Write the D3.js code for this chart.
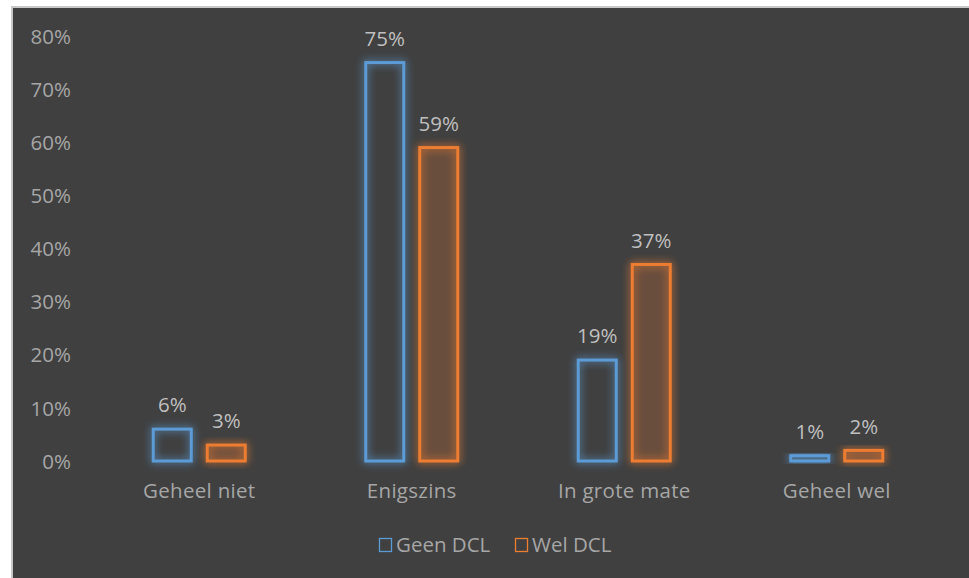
<!DOCTYPE html>
<html><head><meta charset="utf-8">
<script src="https://cdn.jsdelivr.net/npm/d3@7"></script>
<style>
html,body{margin:0;padding:0;background:#fff;}
svg{display:block;}
text{font-family:"Open Sans","Liberation Sans",sans-serif;}
</style></head>
<body>
<svg id="c" width="969" height="578"></svg>
<script>
const categories = ["Geheel niet","Enigszins","In grote mate","Geheel wel"];
const seriesNames = ["Geen DCL","Wel DCL"];
const geenDCL = [6,75,19,1];
const welDCL = [3,59,37,2];
const yTicks = [0,10,20,30,40,50,60,70,80];
const colors = ["#5B9BD5","#ED7D31"];

const svg = d3.select("#c");
svg.append("rect").attr("x",0).attr("y",0).attr("width",969).attr("height",578).attr("fill","#fff");
svg.append("rect").attr("x",11).attr("y",6).attr("width",958).attr("height",572).attr("fill","#c8c8c8");
svg.append("rect").attr("x",13).attr("y",8).attr("width",956).attr("height",570).attr("fill","#404040");

const defs = svg.append("defs");
colors.forEach((c,i)=>{
  const f = defs.append("filter").attr("id","glow"+i).attr("x","-50%").attr("y","-50%").attr("width","200%").attr("height","200%");
  f.append("feGaussianBlur").attr("in","SourceGraphic").attr("stdDeviation",4.5).attr("result","b");
  f.append("feComponentTransfer").attr("in","b").attr("result","b2")
    .append("feFuncA").attr("type","linear").attr("slope",1.1);
  const m = f.append("feMerge");
  m.append("feMergeNode").attr("in","b2");
  m.append("feMergeNode").attr("in","SourceGraphic");
});

const x0 = d3.scaleBand().domain(categories).range([93,943]).paddingInner(0).paddingOuter(0);
const y = d3.scaleLinear().domain([0,80]).range([461,36]);

const fs = 20.5;
const yAxis = d3.axisLeft(y).tickValues(yTicks).tickFormat(d=>d+"%").tickSize(0).tickPadding(0);
const ya = svg.append("g").attr("transform","translate(71,0)").call(yAxis);
ya.select(".domain").remove();
ya.selectAll("text").attr("fill","#a6a6a6").attr("font-size",fs).attr("dy","0.35em").attr("font-family",null);

const xAxis = d3.axisBottom(x0).tickSize(0).tickPadding(0);
const xa = svg.append("g").attr("transform","translate(0,491)").call(xAxis);
xa.select(".domain").remove();
xa.selectAll("text").attr("fill","#a6a6a6").attr("font-size",fs).attr("dy","0.35em").attr("font-family",null).attr("letter-spacing","0.3px");

const barW = 38, gap = 16;
const series = [geenDCL, welDCL];
const fills = ["rgba(91,155,213,0.0)","rgba(237,125,49,0.12)"];
series.forEach((vals,si)=>{
  const g = svg.append("g");
  vals.forEach((v,ci)=>{
    const cx = x0(categories[ci]) + x0.bandwidth()/2;
    const bx = si===0 ? cx - gap/2 - barW : cx + gap/2;
    g.append("rect")
      .attr("x",bx).attr("y",y(v))
      .attr("width",barW).attr("height",y(0)-y(v))
      .attr("fill",fills[si]).attr("stroke",colors[si]).attr("stroke-width",3)
      .attr("filter","url(#glow"+si+")");
    svg.append("text").attr("x",bx+barW/2).attr("y",y(v)-24)
      .attr("text-anchor","middle").attr("dy","0.35em")
      .attr("fill","#bfbfbf").attr("font-size",fs).text(v+"%");
  });
});

const leg = svg.append("g");
const legItems = [{x:379,name:seriesNames[0],c:colors[0]},{x:515,name:seriesNames[1],c:colors[1]}];
legItems.forEach(it=>{
  leg.append("rect").attr("x",it.x+0.5).attr("y",538.5).attr("width",12).attr("height",13)
    .attr("fill","none").attr("stroke",it.c).attr("stroke-width",1.3);
  leg.append("text").attr("x",it.x+17).attr("y",545).attr("dy","0.35em")
    .attr("fill","#a6a6a6").attr("font-size",fs).text(it.name);
});
</script>
</body></html>
